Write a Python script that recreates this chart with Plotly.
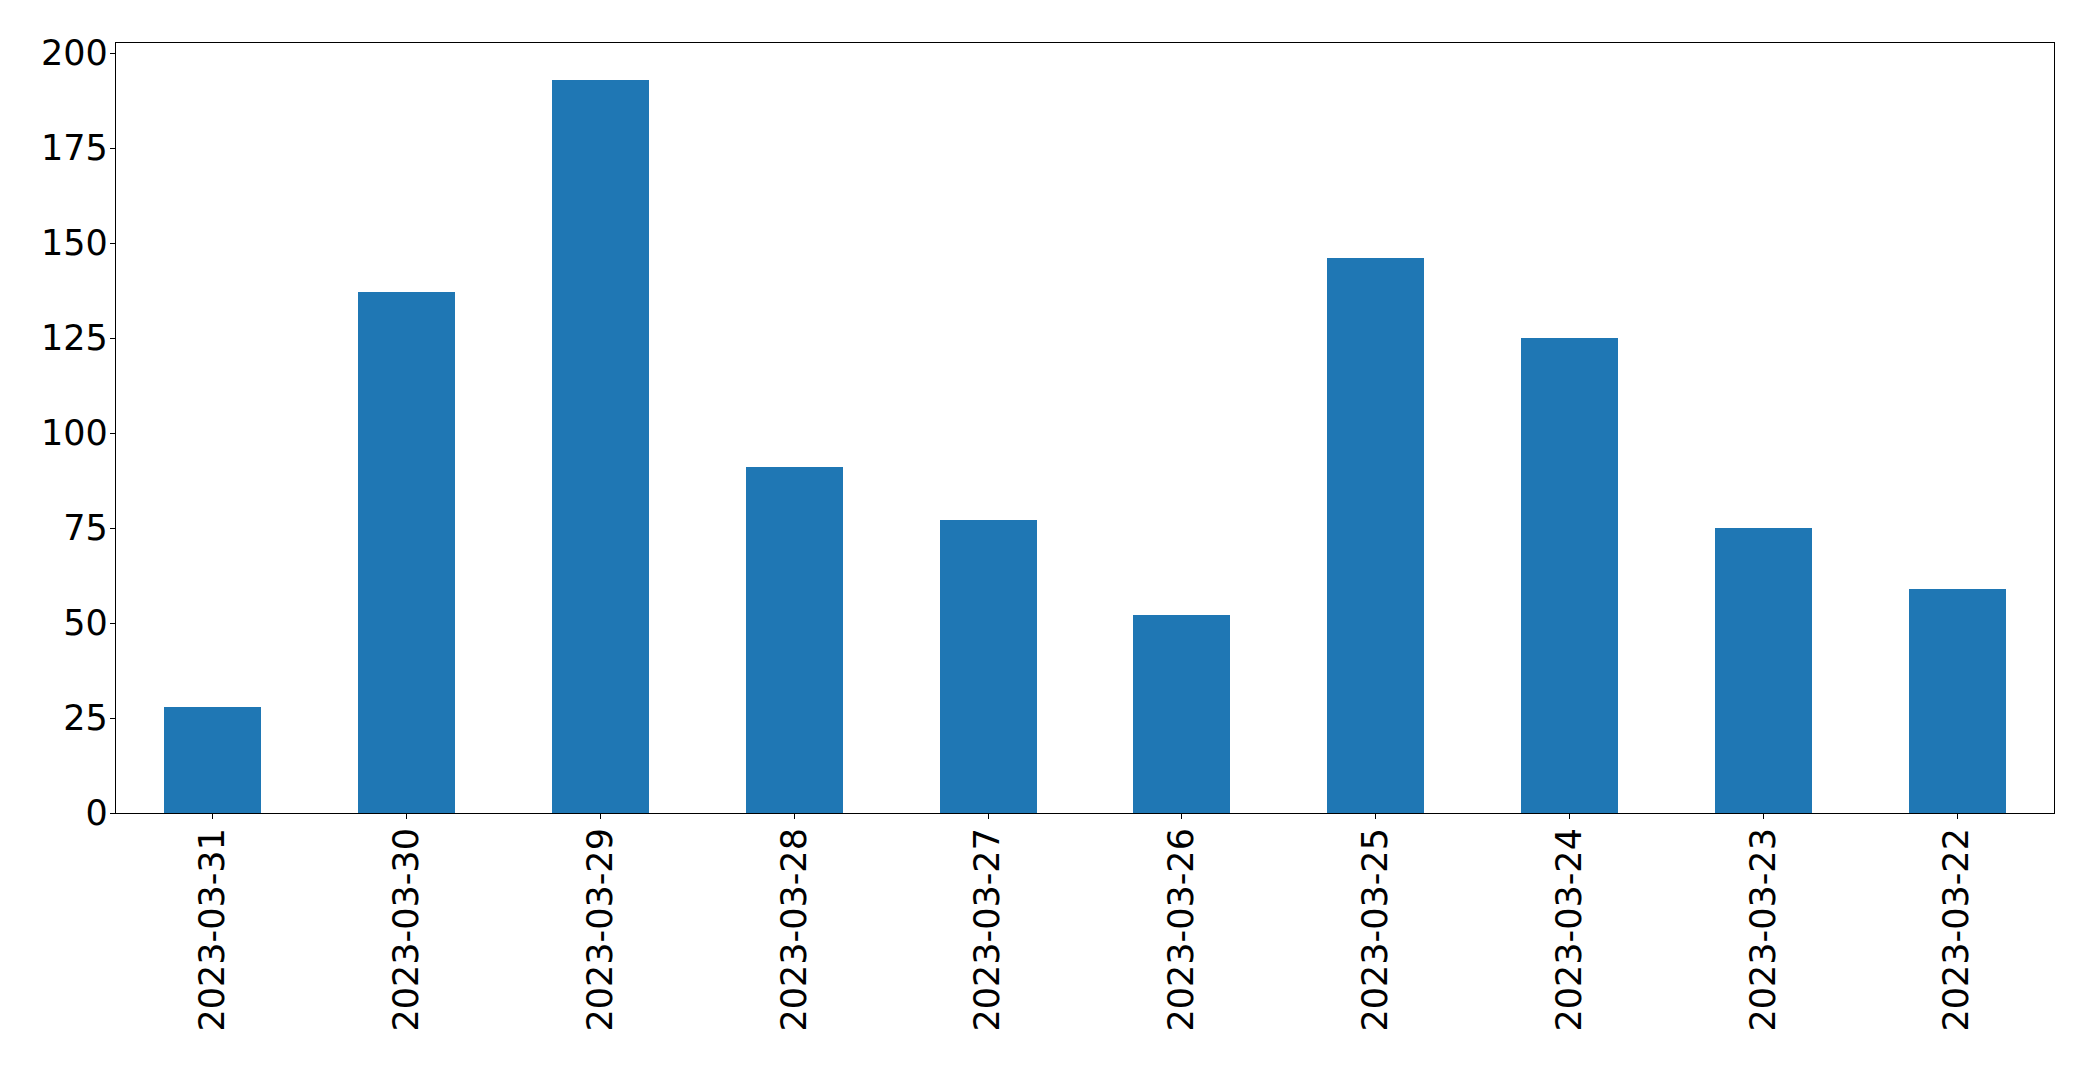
import plotly.graph_objects as go

dates = ["2023-03-31", "2023-03-30", "2023-03-29", "2023-03-28", "2023-03-27",
         "2023-03-26", "2023-03-25", "2023-03-24", "2023-03-23", "2023-03-22"]
counts = [28, 137, 193, 91, 77, 52, 146, 125, 75, 59]
y_ticks = [0, 25, 50, 75, 100, 125, 150, 175, 200]

fig = go.Figure(go.Bar(x=dates, y=counts, width=0.5, marker=dict(color="#1f77b4", line=dict(width=0))))

fig.update_layout(
    width=2085, height=1057,
    margin=dict(l=108, r=39, t=35, b=252),
    plot_bgcolor="white", paper_bgcolor="white",
    font=dict(family="DejaVu Sans", size=35, color="black"),
    showlegend=False,
    bargap=0,
)
fig.update_xaxes(
    type="category", range=[-0.5, 9.5], tickangle=-90,
    showline=True, linecolor="black", linewidth=1.2, mirror=True,
    ticks="outside", ticklen=5, tickcolor="black", showgrid=False,
    ticklabelstandoff=-5,
)
fig.update_yaxes(
    range=[0, 202.65], tickvals=y_ticks,
    showline=True, linecolor="black", linewidth=1.2, mirror=True,
    ticks="outside", ticklen=5, tickcolor="black", showgrid=False, zeroline=False,
    ticklabelstandoff=-5,
)
fig.write_html("out.html")
